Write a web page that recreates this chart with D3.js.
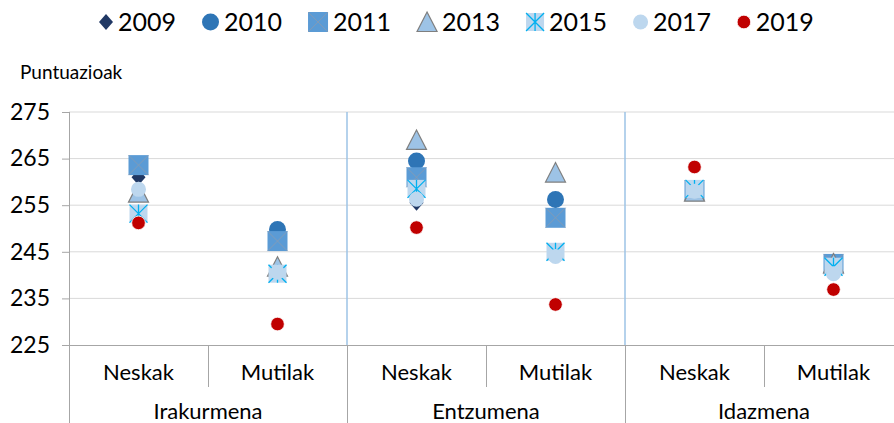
<!DOCTYPE html>
<html>
<head>
<meta charset="utf-8">
<script src="https://cdn.jsdelivr.net/npm/d3@7"></script>
<style>
  body { margin: 0; background: #fff; }
  svg { display: block; font-family: Lato, "Open Sans", sans-serif; }
</style>
</head>
<body>
<div id="chart"></div>
<script>
const groups = ["Irakurmena", "Entzumena", "Idazmena"];
const subgroups = ["Neskak", "Mutilak"];
const years = ["2009", "2010", "2011", "2013", "2015", "2017", "2019"];
const yTicks = [225, 235, 245, 255, 265, 275];

// values per column: Irak-Neskak, Irak-Mutilak, Entz-Neskak, Entz-Mutilak, Idaz-Neskak, Idaz-Mutilak
const v2009 = [261.0, 241.0, 255.5, 253.0, 258.0, 243.0];
const v2010 = [263.5, 249.8, 264.5, 256.2, null, null];
const v2011 = [263.6, 247.3, 261.0, 252.3, 258.2, 242.4];
const v2013 = [257.7, 241.8, 269.0, 262.0, 257.9, 242.5];
const v2015 = [253.2, 240.3, 258.5, 245.0, 258.5, 241.8];
const v2017 = [258.4, 240.6, 256.3, 244.0, 258.0, 240.3];
const v2019 = [251.2, 229.5, 250.2, 233.7, 263.2, 236.9];
const seriesValues = [v2009, v2010, v2011, v2013, v2015, v2017, v2019];

const width = 894, height = 423;
const plot = { left: 69, top: 112, bottom: 345, right: 903 };

const svg = d3.select("#chart").append("svg")
  .attr("width", width).attr("height", height);

const columns = [];
groups.forEach((g) => subgroups.forEach((s) => columns.push(g + "|" + s)));

const x = d3.scaleBand().domain(columns).range([plot.left, plot.right]);
const xGroup = d3.scaleBand().domain(groups).range([plot.left, plot.right]);
const y = d3.scaleLinear().domain([225, 275]).range([plot.bottom, plot.top]);

// Gridlines
svg.append("g").selectAll("line")
  .data(yTicks.slice(1))
  .join("line")
  .attr("x1", plot.left).attr("x2", width)
  .attr("y1", (d) => y(d)).attr("y2", (d) => y(d))
  .attr("stroke", "#d9d9d9").attr("stroke-width", 1);

// Y axis
svg.append("g")
  .attr("transform", `translate(${plot.left},0)`)
  .call(d3.axisLeft(y).tickValues(yTicks).tickSize(7).tickPadding(12))
  .call((g) => g.select(".domain").remove())
  .call((g) => g.selectAll("line").attr("stroke", "#a6a6a6"))
  .selectAll("text")
  .attr("fill", "#000")
  .attr("font-size", "23px")
  .attr("font-family", "Lato, sans-serif");

svg.append("line")
  .attr("x1", plot.left + 0.5).attr("x2", plot.left + 0.5)
  .attr("y1", plot.top).attr("y2", height)
  .attr("stroke", "#a6a6a6");

// X axis line
svg.append("line")
  .attr("x1", plot.left - 7).attr("x2", width)
  .attr("y1", plot.bottom + 0.5).attr("y2", plot.bottom + 0.5)
  .attr("stroke", "#a6a6a6");

// Group separators (blue inside plot, grey below)
groups.slice(1).forEach((g) => {
  const gx = xGroup(g);
  svg.append("line")
    .attr("x1", gx).attr("x2", gx)
    .attr("y1", plot.top).attr("y2", plot.bottom)
    .attr("stroke", "#9dc3e6").attr("stroke-width", 1.5);
  svg.append("line")
    .attr("x1", gx + 0.5).attr("x2", gx + 0.5)
    .attr("y1", plot.bottom).attr("y2", height)
    .attr("stroke", "#a6a6a6");
});

// Subcategory separators
groups.forEach((g) => {
  const sx = x(g + "|" + subgroups[1]);
  svg.append("line")
    .attr("x1", sx + 0.5).attr("x2", sx + 0.5)
    .attr("y1", plot.bottom).attr("y2", 387)
    .attr("stroke", "#a6a6a6");
});

// Category labels
svg.append("g").selectAll("text")
  .data(columns)
  .join("text")
  .attr("x", (d) => x(d) + x.bandwidth() / 2)
  .attr("y", 372).attr("dy", "0.35em")
  .attr("text-anchor", "middle")
  .attr("font-size", "22px").attr("fill", "#000")
  .text((d) => d.split("|")[1]);

svg.append("g").selectAll("text")
  .data(groups)
  .join("text")
  .attr("x", (d) => xGroup(d) + xGroup.bandwidth() / 2)
  .attr("y", 411).attr("dy", "0.35em")
  .attr("text-anchor", "middle")
  .attr("font-size", "22px").attr("fill", "#000")
  .text((d) => d);

svg.append("text")
  .attr("x", 20).attr("y", 72).attr("dy", "0.35em")
  .attr("font-size", "19px").attr("fill", "#000")
  .text("Puntuazioak");

// Marker half-widths, used for legend spacing
const halfW = { "2009": 7, "2010": 8.5, "2011": 10, "2013": 10, "2015": 9, "2017": 7.5, "2019": 6.8 };

function drawMarker(g, year) {
  switch (year) {
    case "2009":
      g.append("path").attr("d", "M0,-8L7,0L0,8L-7,0Z").attr("fill", "#203864");
      break;
    case "2010":
      g.append("circle").attr("r", 8.5).attr("fill", "#2e75b6");
      break;
    case "2011":
      g.append("rect").attr("x", -10).attr("y", -10).attr("width", 20).attr("height", 20)
        .attr("fill", "#5b9bd5");
      g.append("path").attr("d", "M-10,-10L10,10M10,-10L-10,10")
        .attr("stroke", "#8a9bb0").attr("stroke-width", 0.8).attr("fill", "none");
      break;
    case "2013":
      g.append("path").attr("d", "M0,-10L10,9.5L-10,9.5Z")
        .attr("fill", "#9dc3e6").attr("stroke", "#7f7f7f").attr("stroke-width", 1.2);
      break;
    case "2015":
      g.append("rect").attr("x", -9).attr("y", -9).attr("width", 18).attr("height", 18)
        .attr("fill", "#bdd7ee");
      g.append("path").attr("d", "M-9,-9L9,9M9,-9L-9,9M0,-9L0,9")
        .attr("stroke", "#00b0f0").attr("stroke-width", 1.3).attr("fill", "none");
      break;
    case "2017":
      g.append("circle").attr("r", 7.5).attr("fill", "#bdd7ee");
      break;
    case "2019":
      g.append("circle").attr("r", 6.8).attr("fill", "#c00000")
        .attr("stroke", "#fff").attr("stroke-width", 0.8);
      break;
  }
}

// Points, drawn series by series so later years sit on top
years.forEach((yr, i) => {
  const pts = seriesValues[i]
    .map((v, j) => ({ col: columns[j], v }))
    .filter((d) => d.v != null);
  svg.append("g").selectAll("g")
    .data(pts)
    .join("g")
    .attr("transform", (d) => `translate(${x(d.col) + x.bandwidth() / 2},${y(d.v)})`)
    .each(function () { drawMarker(d3.select(this), yr); });
});

// Legend
const legend = svg.append("g");
let lx = 106;
years.forEach((yr, i) => {
  const item = legend.append("g").attr("transform", `translate(${lx},22)`);
  drawMarker(item, yr);
  const t = item.append("text")
    .attr("x", halfW[yr] + 5).attr("dy", "0.35em")
    .attr("font-size", "25px").attr("fill", "#000")
    .text(yr);
  const next = years[i + 1];
  if (next) lx += halfW[yr] + 5 + t.node().getComputedTextLength() + 26 + halfW[next];
});
</script>
</body>
</html>
